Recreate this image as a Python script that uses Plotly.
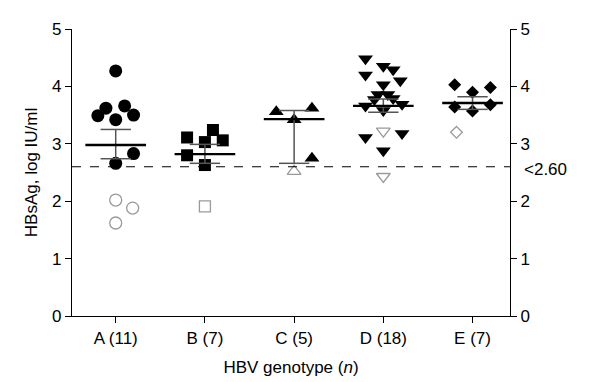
import plotly.graph_objects as go

categories = ["A (11)", "B (7)", "C (5)", "D (18)", "E (7)"]

# HBsAg values (log IU/ml), filled = above 2.60 threshold, open = below/other
a_filled = [4.27, 3.62, 3.49, 3.66, 3.42, 3.50, 2.83, 2.66]
a_filled_jit = [0.0, -0.11, -0.2, 0.1, 0.0, 0.2, 0.2, 0.0]
a_open = [2.02, 1.88, 1.62]
a_open_jit = [0.0, 0.19, 0.0]

b_filled = [3.11, 3.24, 3.03, 3.06, 2.80, 2.63]
b_filled_jit = [-0.2, 0.09, 0.0, 0.2, -0.2, 0.0]
b_open = [1.91]
b_open_jit = [0.0]

c_filled = [3.56, 3.62, 3.42, 2.75]
c_filled_jit = [-0.2, 0.2, 0.0, 0.2]
c_open = [2.52]
c_open_jit = [0.0]

d_filled = [4.48, 4.35, 4.29, 4.20, 4.10, 4.03, 3.86, 3.86, 3.77, 3.79,
            3.66, 3.69, 3.58, 3.11, 3.18, 2.88]
d_filled_jit = [-0.2, 0.0, 0.11, -0.2, 0.19, 0.0, -0.06, 0.05, -0.1, 0.11,
                -0.2, 0.21, 0.0, -0.2, 0.21, 0.0]
d_open = [3.22, 2.43]
d_open_jit = [0.0, 0.0]

e_filled = [4.03, 3.90, 3.98, 3.64, 3.57, 3.68]
e_filled_jit = [-0.2, 0.0, 0.2, -0.2, 0.0, 0.2]
e_open = [3.20]
e_open_jit = [-0.18]

means = [2.98, 2.82, 3.43, 3.66, 3.71]
se_hi = [3.25, 2.99, 3.58, 3.78, 3.82]
se_lo = [2.74, 2.66, 2.66, 3.55, 3.60]

threshold = 2.60

groups = [
    (a_filled, a_filled_jit, a_open, a_open_jit, "circle"),
    (b_filled, b_filled_jit, b_open, b_open_jit, "square"),
    (c_filled, c_filled_jit, c_open, c_open_jit, "triangle-up"),
    (d_filled, d_filled_jit, d_open, d_open_jit, "triangle-down"),
    (e_filled, e_filled_jit, e_open, e_open_jit, "diamond"),
]
sizes = {"circle": 13, "square": 12, "triangle-up": 13, "triangle-down": 13, "diamond": 10}

fig = go.Figure()

for i, (fv, fj, ov, oj, sym) in enumerate(groups):
    fig.add_trace(go.Scatter(
        x=[i + j for j in fj], y=fv, mode="markers",
        marker=dict(symbol=sym, size=sizes[sym], color="black", line=dict(width=0)),
        showlegend=False, hoverinfo="y"))
    fig.add_trace(go.Scatter(
        x=[i + j for j in oj], y=ov, mode="markers",
        marker=dict(symbol=sym + "-open", size=sizes[sym] - 1, color="#9a9a9a",
                    line=dict(width=1.3, color="#9a9a9a")),
        showlegend=False, hoverinfo="y"))

# SE bars (vertical + caps)
for i in range(len(categories)):
    xs = [i, i, None, i - 0.17, i + 0.17, None, i - 0.17, i + 0.17]
    ys = [se_lo[i], se_hi[i], None, se_hi[i], se_hi[i], None, se_lo[i], se_lo[i]]
    fig.add_trace(go.Scatter(x=xs, y=ys, mode="lines",
                             line=dict(color="#555555", width=1.5),
                             showlegend=False, hoverinfo="skip"))
    fig.add_trace(go.Scatter(x=[i - 0.34, i + 0.34], y=[means[i], means[i]], mode="lines",
                             line=dict(color="black", width=2.4),
                             showlegend=False, hoverinfo="skip"))

# invisible trace for right axis
fig.add_trace(go.Scatter(x=[0], y=[0], yaxis="y2", mode="markers",
                         marker=dict(opacity=0), showlegend=False, hoverinfo="skip"))

fig.add_shape(type="line", xref="paper", yref="y", x0=0, x1=1, y0=threshold, y1=threshold,
              line=dict(color="black", width=1.2, dash="dash"))

axis_font = dict(family="Liberation Sans, Arial, sans-serif", size=17, color="black")

fig.add_annotation(xref="paper", yref="y", x=1.0, y=threshold, xanchor="left",
                   xshift=12, yshift=-3, text="<2.60", showarrow=False,
                   font=axis_font)

fig.update_layout(
    width=590, height=382,
    margin=dict(l=64, r=88, t=13, b=74),
    plot_bgcolor="white", paper_bgcolor="white",
    font=axis_font,
    xaxis=dict(range=[-0.49, 4.42], tickvals=list(range(len(categories))),
               ticktext=categories, showline=True, linecolor="black", linewidth=1.2,
               ticks="outside", ticklen=6, tickcolor="black", tickwidth=1.2,
               showgrid=False, zeroline=False, tickfont=axis_font,
               title=dict(text="HBV genotype (<i>n</i>)", standoff=14, font=axis_font)),
    yaxis=dict(range=[0, 5], tickvals=[0, 1, 2, 3, 4, 5], showline=True,
               linecolor="black", linewidth=1.2, ticks="outside", ticklen=6,
               tickcolor="black", tickwidth=1.2, showgrid=False, zeroline=False,
               tickfont=axis_font,
               title=dict(text="HBsAg, log IU/ml", standoff=10, font=axis_font)),
    yaxis2=dict(range=[0, 5], tickvals=[0, 1, 2, 3, 4, 5], overlaying="y", side="right",
                showline=True, linecolor="black", linewidth=1.2, ticks="outside",
                ticklen=6, tickcolor="black", tickwidth=1.2, showgrid=False,
                zeroline=False, tickfont=axis_font),
)

fig.write_html("out.html")
